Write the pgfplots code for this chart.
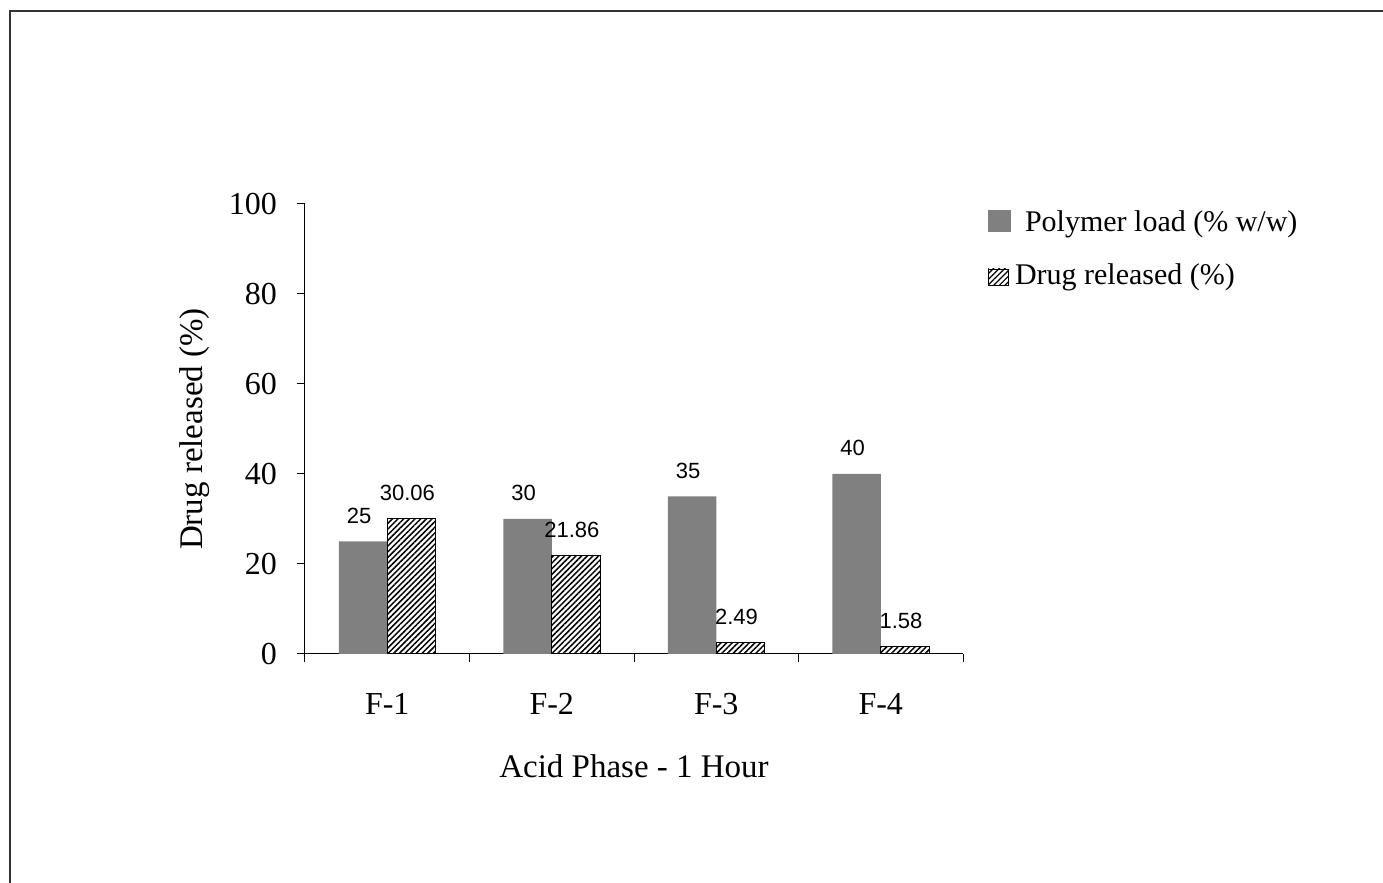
\documentclass[border=0pt]{standalone}
\usepackage{fontspec}
\setmainfont{Liberation Serif}
\setsansfont{Liberation Sans}
\usepackage{pgfplots}
\pgfplotsset{compat=1.18}
\usetikzlibrary{patterns.meta}

\definecolor{bargray}{HTML}{808080}

\begin{document}
\begin{tikzpicture}
\useasboundingbox (0,0) rectangle (691.5pt,441.5pt);
% outer frame of the original figure (bottom and right edges are cut off)
\draw[line width=1pt, black!80] (5pt,-2pt) -- (5pt,436pt) -- (695pt,436pt);
\begin{axis}[
    at={(152.5pt,114.5pt)}, anchor=south west,
    scale only axis, width=329pt, height=225pt,
    ybar=0pt, bar width=0.294,
    xmin=-0.5, xmax=3.5, ymin=0, ymax=100,
    enlargelimits=false,
    axis lines*=left,
    axis line style={-, black, line width=0.5pt},
    xtick={-0.5,0.5,1.5,2.5,3.5},
    x tick label as interval,
    xticklabels={F-1,F-2,F-3,F-4},
    ytick={0,20,...,100},
    tick align=outside, major tick length=4pt,
    tick style={black, line width=0.5pt},
    /pgf/number format/assume math mode=true,
    tick label style={font=\fontsize{16}{19}\selectfont},
    xticklabel style={yshift=-12pt},
    yticklabel style={xshift=-6.5pt},
    label style={font=\fontsize{16.5}{20}\selectfont},
    xlabel={Acid Phase - 1 Hour},
    ylabel={Drug released (\%)},
    xlabel style={at={(axis description cs:0.5,-0.249)}, anchor=center},
    ylabel style={at={(axis description cs:-0.168,0.5)}, anchor=center},
    nodes near coords,
    every node near coord/.append style={font=\sffamily\fontsize{11}{13}\selectfont, black, yshift=5.5pt, xshift=-2pt},
    legend style={at={(axis description cs:1.0365,0.996)}, anchor=north west,
        draw=none, fill=none, inner sep=0pt, row sep=11pt,
        font=\fontsize{15}{18}\selectfont},
    legend cell align=left,
]
\addplot[fill=bargray, draw=none,
    legend image code/.code={\fill[bargray] (0pt,-5pt) rectangle (11.5pt,6pt);}]
    coordinates {(0,25) (1,30) (2,35) (3,40)};
\addplot[draw=black, line width=0.4pt,
    pattern={Lines[angle=45,distance=2pt,line width=0.75pt]}, pattern color=black,
    legend image code/.code={\draw[line width=0.4pt, pattern={Lines[angle=45,distance=2pt,line width=0.6pt]}] (0pt,-4.5pt) rectangle (10pt,3.5pt);}]
    coordinates {(0,30.06) (1,21.86) (2,2.49) (3,1.58)};
\legend{\hspace{5pt}Polymer load (\% w/w), Drug released (\%)}
\end{axis}
\end{tikzpicture}
\end{document}
